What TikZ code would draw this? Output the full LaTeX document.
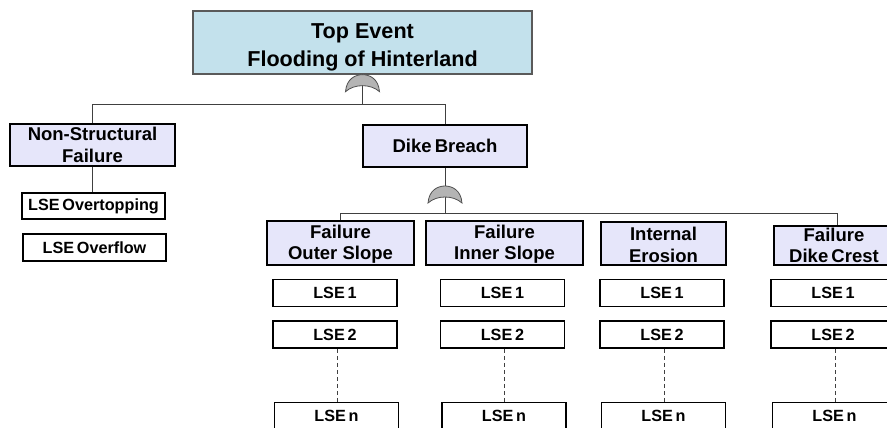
\documentclass[tikz,border=0pt]{standalone}
\usepackage{fontspec}
\setmainfont{Liberation Sans}
\newfontfamily\tightsp{Liberation Sans}[WordSpace=0.62]
\definecolor{topfill}{HTML}{C3E1EC}
\definecolor{topline}{HTML}{5A5A5A}
\definecolor{lav}{HTML}{E6E6FA}
\definecolor{connline}{HTML}{404040}
\definecolor{gatefill}{HTML}{B4B4B4}
\definecolor{gateline}{HTML}{505050}
\tikzset{
  topbox/.style={draw=topline, line width=1.3pt, fill=topfill, inner sep=0pt, align=center,
    minimum width=339pt, minimum height=63pt, font=\bfseries\fontsize{21.6}{28}\selectfont},
  midbox/.style={draw=black, line width=1.8pt, fill=lav, inner sep=0pt, align=center,
    font=\bfseries\fontsize{18.5}{21.5}\selectfont},
  lsebox/.style={draw=black, line width=1.8pt, fill=white, inner sep=0pt,
    minimum width=124pt, minimum height=27pt, font=\tightsp\bfseries\fontsize{16.2}{18}\selectfont},
  conn/.style={draw=connline, line width=1pt},
  dashconn/.style={draw=connline, line width=1pt, dash pattern=on 4pt off 3pt},
  orgate/.pic={
    \path[fill=gatefill, draw=gateline, line width=0.8pt]
      (-17,17) .. controls (-16,4) and (-7,0) .. (0,0)
      .. controls (7,0) and (16,4) .. (17,17)
      .. controls (8,9) and (-8,9) .. (-17,17) -- cycle;
  }
}
\begin{document}
\begin{tikzpicture}[x=1pt,y=-1pt]
\useasboundingbox (0,0) rectangle (887,428);
\clip (0,0) rectangle (887,428);

% nodes
\node[topbox] (top) at (362.5,42.5) {\rule{0pt}{24pt}Top Event\\Flooding of Hinterland};
\node[midbox, minimum width=165pt, minimum height=42pt] (ns) at (92.5,145) {Non-Structural\\Failure};
\node[midbox, minimum width=164pt, minimum height=42pt, font=\tightsp\bfseries\fontsize{18.5}{21.5}\selectfont] (db) at (445,146) {Dike Breach};
\node[lsebox, minimum width=143pt, minimum height=26pt] (ov) at (93.5,206) {LSE Overtopping};
\node[lsebox, minimum width=143pt, minimum height=27pt] (of) at (94.5,247.5) {LSE Overflow};

\node[midbox, minimum width=147pt, minimum height=44pt] (fo) at (340.5,243) {\rule{0pt}{16pt}Failure\\Outer Slope};
\node[midbox, minimum width=157pt, minimum height=44pt] (fi) at (504.5,243) {\rule{0pt}{16pt}Failure\\Inner Slope};
\node[midbox, minimum width=125pt, minimum height=43pt] (ie) at (663.5,243.5) {\rule{0pt}{16pt}Internal\\Erosion};
\node[midbox, minimum width=120pt, minimum height=39pt, font=\tightsp\bfseries\fontsize{18.5}{21.5}\selectfont] (fc) at (834,245.5) {Failure\\Dike Crest};

\foreach \c/\x in {a/335, b/502.5, c/662, d/833}{
  \node[lsebox] (\c1) at (\x,293) {LSE 1};
  \node[lsebox] (\c2) at (\x,334.5) {LSE 2};
  \node[lsebox] (\c n) at (\x+1.5,416) {LSE n};
}

% coordinates
\coordinate (bus1) at (362.5,105);
\coordinate (bus2) at (445,213);
\coordinate (cdrop) at (837,213);
\coordinate (g2) at (445,186);

% connectors
\draw[conn] (top.south) -- (bus1);
\draw[conn] (ns.north) -- (ns.north |- bus1) -- (db.north |- bus1) -- (db.north);
\draw[conn] (ns.south) -- (ns.south |- ov.north);
\draw[conn] (db.south) -- (bus2);
\draw[conn] (fo.north) -- (fo.north |- bus2) -- (cdrop) -- (cdrop |- fc.north);
\foreach \c in {a,b,c,d}{
  \draw[dashconn] ([xshift=2pt]\c2.south) -- ([xshift=2pt]\c2.south |- \c n.north);
}

% gates
\pic at (top.south) {orgate};
\pic at (g2) {orgate};
\end{tikzpicture}
\end{document}
